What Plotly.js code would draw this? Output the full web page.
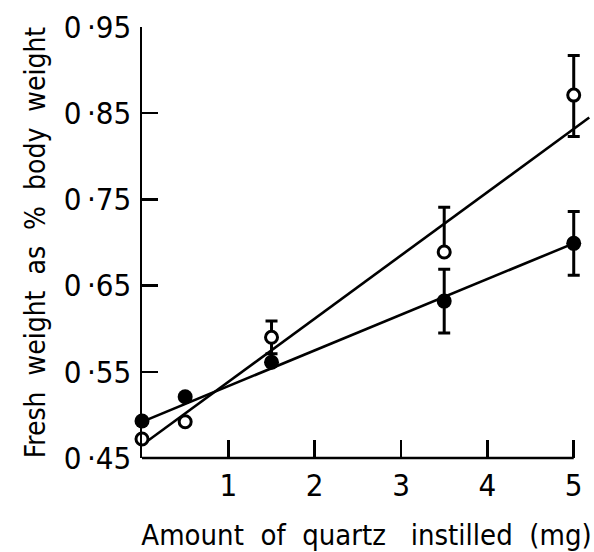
<!DOCTYPE html>
<html><head><meta charset="utf-8">
<script src="https://cdn.plot.ly/plotly-3.0.1.min.js"></script>
<style>html,body{margin:0;padding:0;background:#fff}#c{width:594px;height:552px}</style>
</head><body><div id="c"></div>
<script>
const doseX = [0, 0.5, 1.5, 3.5, 5];
const filledY = [0.493, 0.521, 0.561, 0.632, 0.699];
const filledErr = [0, 0, 0, 0.037, 0.037];
const openY = [0.472, 0.492, 0.590, 0.689, 0.871];
const openErrPlus = [0, 0, 0.019, 0.052, 0.046];
const openErrMinus = [0, 0, 0.019, 0, 0.048];
const filledFitX = [0, 5];
const filledFitY = [0.492, 0.699];
const openFitX = [0, 5.18];
const openFitY = [0.465, 0.845];
const xTickVals = [0, 1, 2, 3, 4, 5];
const xTickText = ['', '1', '2', '3', '4', '5'];
const yTickVals = [0.45, 0.55, 0.65, 0.75, 0.85, 0.95];
const yTickText = ['0\u2009·45', '0\u2009·55', '0\u2009·65', '0\u2009·75', '0\u2009·85', '0\u2009·95'];

const font = 'DejaVu Sans Condensed, DejaVu Sans, sans-serif';
const traces = [
  {x: openFitX, y: openFitY, mode: 'lines', line: {color: '#000', width: 2.6}, hoverinfo: 'skip'},
  {x: filledFitX, y: filledFitY, mode: 'lines', line: {color: '#000', width: 2.6}, hoverinfo: 'skip'},
  {x: doseX, y: openY, mode: 'markers', cliponaxis: false,
   marker: {symbol: 'circle', size: 12, color: '#fff', line: {color: '#000', width: 3}},
   error_y: {type: 'data', array: openErrPlus, arrayminus: openErrMinus, symmetric: false, color: '#000', thickness: 3, width: 6}},
  {x: doseX, y: filledY, mode: 'markers', cliponaxis: false,
   marker: {symbol: 'circle', size: 15, color: '#000', line: {color: '#000', width: 0}},
   error_y: {type: 'data', array: filledErr, color: '#000', thickness: 3, width: 6}}
];
const layout = {
  width: 594, height: 552,
  margin: {l: 142, r: 3, t: 27, b: 94},
  paper_bgcolor: '#fff', plot_bgcolor: '#fff',
  showlegend: false,
  font: {family: font, color: '#000'},
  xaxis: {range: [0, 5.2], tickvals: xTickVals, ticktext: xTickText, ticks: 'inside', ticklen: 18, tickwidth: 2.5, tickcolor: '#000',
          showline: false, showgrid: false, zeroline: false, tickfont: {size: 31, family: font}, ticklabelstandoff: 6,
          title: {text: 'Amount&#160; of&#160; quartz&#160;&#160; instilled&#160; (mg)', font: {size: 29, family: font}, standoff: 25}},
  yaxis: {range: [0.45, 0.95], tickvals: yTickVals, ticktext: yTickText, ticks: 'inside', ticklen: 16, tickwidth: 2.5, tickcolor: '#000',
          showline: true, linewidth: 2.5, linecolor: '#000', showgrid: false, zeroline: false, tickfont: {size: 31, family: font}, ticklabelstandoff: 2,
          title: {text: 'Fresh&#160; weight&#160; as&#160; %&#160; body&#160; weight', font: {size: 28, family: font}, standoff: 10}},
  shapes: [{type: 'line', xref: 'x', yref: 'paper', x0: 0, x1: 5, y0: 0, y1: 0, line: {color: '#000', width: 2.5}}]
};
Plotly.newPlot('c', traces, layout, {displayModeBar: false, staticPlot: true});
</script></body></html>
